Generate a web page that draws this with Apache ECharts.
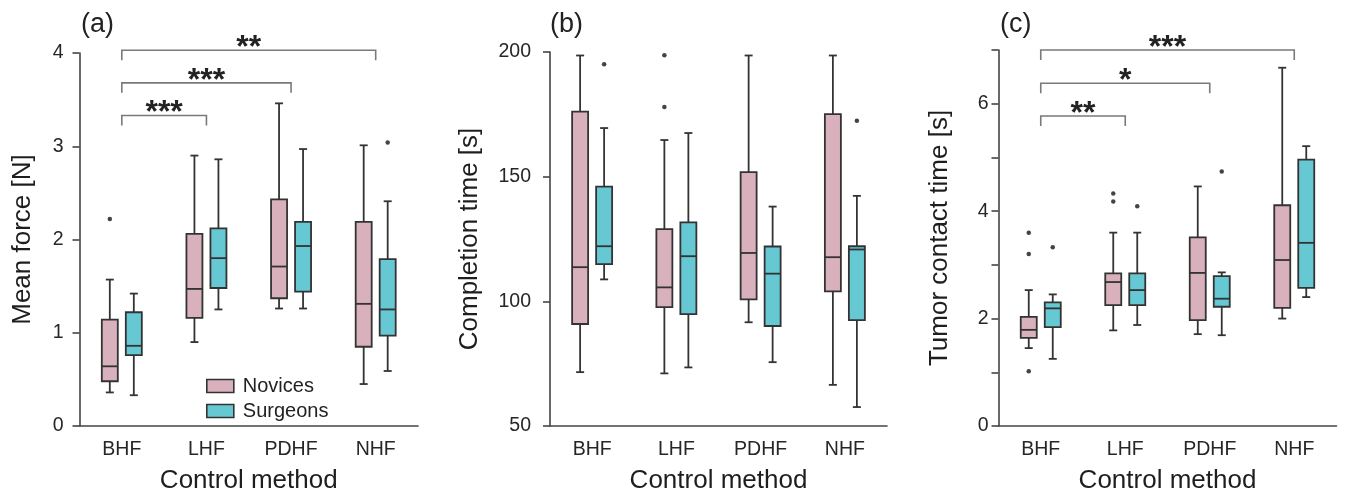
<!DOCTYPE html>
<html>
<head>
<meta charset="utf-8">
<script src="https://cdn.jsdelivr.net/npm/echarts@6/dist/echarts.min.js"></script>
<style>
  html, body { margin: 0; padding: 0; background: #fff; }
  #chart { width: 1346px; height: 499px; }
</style>
</head>
<body>
<div id="chart"></div>
<script>
// categories shared by the three panels
var methods = ['BHF', 'LHF', 'PDHF', 'NHF']

// box values per method: [min, q1, median, q3, max]
var forceNovices = [[0.36, 0.48, 0.64, 1.14, 1.57], [0.90, 1.16, 1.47, 2.06, 2.90], [1.26, 1.37, 1.71, 2.43, 3.46], [0.45, 0.85, 1.31, 2.19, 3.01]]
var forceSurgeons = [[0.33, 0.76, 0.86, 1.22, 1.42], [1.25, 1.48, 1.80, 2.12, 2.86], [1.26, 1.44, 1.93, 2.19, 2.97], [0.59, 0.97, 1.25, 1.79, 2.41]]
var forceOutNovices = [[0, 2.22]]
var forceOutSurgeons = [[3, 3.04]]
var forceBrackets = [[0, 1, 3.33], [0, 2, 3.68], [0, 3, 4.03]]
var forceStars = ['***', '***', '**']

var timeNovices = [[71.6, 90.9, 113.7, 176.1, 198.6], [71.1, 97.7, 105.6, 129.0, 164.7], [91.6, 100.8, 119.4, 151.8, 198.6], [66.5, 104.0, 117.7, 175.1, 198.6]]
var timeSurgeons = [[108.8, 114.9, 122.1, 146.0, 169.5], [73.5, 94.9, 118.1, 131.7, 167.5], [75.6, 90.1, 111.1, 122.0, 138.0], [57.6, 92.5, 120.8, 122.1, 142.3]]
var timeOutNovices = [[1, 198.7], [1, 177.9]]
var timeOutSurgeons = [[0, 195.1], [3, 172.4]]

var contactNovices = [[1.45, 1.64, 1.79, 2.03, 2.53], [1.78, 2.25, 2.68, 2.84, 3.60], [1.71, 1.97, 2.85, 3.51, 4.46], [2.00, 2.20, 3.09, 4.11, 6.67]]
var contactSurgeons = [[1.25, 1.84, 2.19, 2.30, 2.45], [1.88, 2.25, 2.53, 2.84, 3.60], [1.69, 2.22, 2.37, 2.79, 2.86], [2.40, 2.57, 3.41, 4.96, 5.21]]
var contactOutNovices = [[0, 3.60], [0, 3.20], [0, 1.02], [1, 4.33], [1, 4.18]]
var contactOutSurgeons = [[0, 3.33], [1, 4.09], [2, 4.74]]
var contactBrackets = [[0, 1, 5.77], [0, 2, 6.38], [0, 3, 7.0]]
var contactStars = ['**', '*', '***']

var PINK = '#d9b1bd'
var CYAN = '#66c8d3'
var INK = '#333'
var FONT = 'Liberation Sans, Arial, sans-serif'

// [index, min, q1, med, q3, max]
function withIndex (rows) {
  return rows.map(function (r, i) { return [i].concat(r) })
}

function renderBox (offset, fill) {
  return function (params, api) {
    var c = api.value(0)
    var x = api.coord([c, 0])[0] + offset
    var y = [1, 2, 3, 4, 5].map(function (d) { return api.coord([c, api.value(d)])[1] })
    var half = 8
    var cap = 4
    var line = { stroke: INK, lineWidth: 1.8 }
    return {
      type: 'group',
      children: [
        { type: 'line', shape: { x1: x, y1: y[3], x2: x, y2: y[4] }, style: line },
        { type: 'line', shape: { x1: x - cap, y1: y[4], x2: x + cap, y2: y[4] }, style: line },
        { type: 'line', shape: { x1: x, y1: y[0], x2: x, y2: y[1] }, style: line },
        { type: 'line', shape: { x1: x - cap, y1: y[0], x2: x + cap, y2: y[0] }, style: line },
        { type: 'rect', shape: { x: x - half, y: y[3], width: half * 2, height: y[1] - y[3] }, style: { fill: fill, stroke: INK, lineWidth: 1.8 } },
        { type: 'line', shape: { x1: x - half, y1: y[2], x2: x + half, y2: y[2] }, style: line }
      ]
    }
  }
}

function renderBracket (stars) {
  return function (params, api) {
    var p1 = api.coord([api.value(0), api.value(2)])
    var p2 = api.coord([api.value(1), api.value(2)])
    var drop = 10
    return {
      type: 'group',
      children: [
        {
          type: 'polyline',
          shape: { points: [[p1[0], p1[1] + drop], [p1[0], p1[1]], [p2[0], p2[1]], [p2[0], p2[1] + drop]] },
          style: { fill: null, stroke: '#7a7a7a', lineWidth: 1.6 }
        },
        {
          type: 'text',
          x: (p1[0] + p2[0]) / 2,
          y: p1[1] - 2,
          style: { text: stars[params.dataIndex], fontSize: 32, fontWeight: 'bold', fontFamily: FONT, fill: '#222', align: 'center', verticalAlign: 'middle' }
        }
      ]
    }
  }
}

function boxSeries (name, idx, rows, offset, fill) {
  return {
    name: name,
    type: 'custom',
    xAxisIndex: idx,
    yAxisIndex: idx,
    itemStyle: { color: fill },
    renderItem: renderBox(offset, fill),
    encode: { x: 0, y: [1, 2, 3, 4, 5] },
    data: withIndex(rows)
  }
}

function outlierSeries (name, idx, points, offset) {
  return {
    name: name,
    type: 'scatter',
    xAxisIndex: idx,
    yAxisIndex: idx,
    symbolSize: 4.5,
    symbolOffset: [offset, 0],
    itemStyle: { color: '#151515' },
    data: points
  }
}

function bracketSeries (idx, rows, stars) {
  return {
    type: 'custom',
    xAxisIndex: idx,
    yAxisIndex: idx,
    clip: false,
    renderItem: renderBracket(stars),
    encode: { x: 0 },
    data: rows
  }
}

var axisLine = { lineStyle: { color: '#444', width: 1.6 } }
var tickStyle = { length: 7, lineStyle: { color: '#444', width: 1.6 } }
var labelText = { fontSize: 19.5, color: '#262626', fontFamily: FONT }
var nameText = { fontSize: 26, color: '#1e1e1e', fontFamily: FONT }

function xAxis (idx, name) {
  return {
    type: 'category',
    gridIndex: idx,
    data: methods,
    name: name,
    nameLocation: 'middle',
    nameGap: 42,
    nameTextStyle: nameText,
    axisLine: axisLine,
    axisTick: Object.assign({ alignWithLabel: true }, tickStyle),
    axisLabel: Object.assign({ margin: 14 }, labelText),
    splitLine: { show: false }
  }
}

function yAxis (idx, name, min, max, interval, gap, margin, fmt) {
  return {
    type: 'value',
    gridIndex: idx,
    min: min,
    max: max,
    interval: interval,
    name: name,
    nameLocation: 'middle',
    nameGap: gap,
    nameTextStyle: nameText,
    axisLine: Object.assign({ show: true }, axisLine),
    axisTick: Object.assign({ show: true }, tickStyle),
    axisLabel: Object.assign({ margin: margin, formatter: fmt }, labelText),
    splitLine: { show: false }
  }
}

var chart = echarts.init(document.getElementById('chart'))
chart.setOption({
  animation: false,
  backgroundColor: '#fff',
  title: [
    { text: '(a)', left: 76, top: 6, textStyle: { fontSize: 27, fontWeight: 'normal', color: '#222', fontFamily: FONT } },
    { text: '(b)', left: 545, top: 6, textStyle: { fontSize: 27, fontWeight: 'normal', color: '#222', fontFamily: FONT } },
    { text: '(c)', left: 995, top: 6, textStyle: { fontSize: 27, fontWeight: 'normal', color: '#222', fontFamily: FONT } }
  ],
  legend: {
    orient: 'vertical',
    left: 201,
    top: 371,
    itemWidth: 27,
    itemHeight: 13,
    itemGap: 5,
    icon: 'rect',
    textStyle: { fontSize: 20, color: '#222', fontFamily: FONT, padding: [0, 0, 0, 4] },
    data: [
      { name: 'Novices', itemStyle: { color: PINK, borderColor: INK, borderWidth: 1.6 } },
      { name: 'Surgeons', itemStyle: { color: CYAN, borderColor: INK, borderWidth: 1.6 } }
    ]
  },
  grid: [
    { left: 79.5, top: 53, width: 338.5, height: 376 },
    { left: 550, top: 52, width: 337, height: 376.5 },
    { left: 998.5, top: 50, width: 338, height: 376 }
  ],
  xAxis: [
    xAxis(0, 'Control method'),
    xAxis(1, 'Control method'),
    xAxis(2, 'Control method')
  ],
  yAxis: [
    yAxis(0, 'Mean force [N]', 0, 4, 1, 44, 16),
    yAxis(1, 'Completion time [s]', 50, 200, 50, 67, 19),
    yAxis(2, 'Tumor contact time [s]', 0, 7, 1, 46, 10, function (v) { return v % 2 === 0 ? String(v) : '' })
  ],
  series: [
    boxSeries('Novices', 0, forceNovices, -12, PINK),
    boxSeries('Surgeons', 0, forceSurgeons, 12, CYAN),
    outlierSeries('Novices out', 0, forceOutNovices, -12),
    outlierSeries('Surgeons out', 0, forceOutSurgeons, 12),
    bracketSeries(0, forceBrackets, forceStars),

    boxSeries('Novices', 1, timeNovices, -12, PINK),
    boxSeries('Surgeons', 1, timeSurgeons, 12, CYAN),
    outlierSeries('Novices out', 1, timeOutNovices, -12),
    outlierSeries('Surgeons out', 1, timeOutSurgeons, 12),

    boxSeries('Novices', 2, contactNovices, -12, PINK),
    boxSeries('Surgeons', 2, contactSurgeons, 12, CYAN),
    outlierSeries('Novices out', 2, contactOutNovices, -12),
    outlierSeries('Surgeons out', 2, contactOutSurgeons, 12),
    bracketSeries(2, contactBrackets, contactStars)
  ]
})
</script>
</body>
</html>
